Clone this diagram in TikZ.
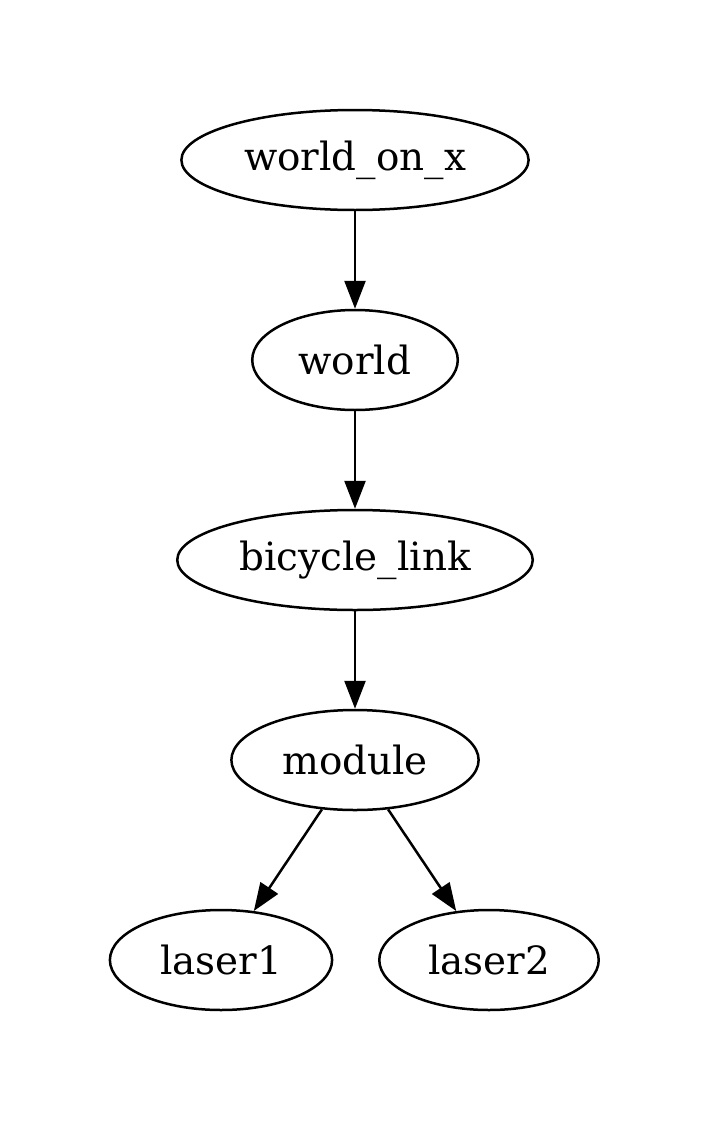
\documentclass[tikz,border=0pt]{standalone}
\usepackage{fontspec}
\setmainfont{DejaVu Serif}
\usetikzlibrary{arrows.meta,shapes.geometric,positioning}

\begin{document}
\begin{tikzpicture}[x=0.36pt,y=-0.36pt,
  joint/.style={draw,ellipse,line width=0.9pt,inner sep=0pt,minimum height=36pt,
    font=\fontsize{14}{16}\selectfont},
  tf/.style={line width=0.9pt,-{Triangle[length=10pt,width=7.5pt]}}]
\useasboundingbox (0,0) rectangle (712,1123);
\node[joint,minimum width=125pt] (wox) at (355,160) {world\_on\_x};
\node[joint,minimum width=74pt] (world) at (355,360) {world};
\node[joint,minimum width=128pt] (bike) at (355,560) {bicycle\_link};
\node[joint,minimum width=89pt] (module) at (355,760) {module};
\node[joint,minimum width=80pt] (laser1) at (221,960) {laser1};
\node[joint,minimum width=79pt] (laser2) at (489,960) {laser2};
\foreach \a/\b in {wox/world,world/bike,bike/module,module/laser1,module/laser2}
  \draw[tf] (\a) -- (\b);
\end{tikzpicture}
\end{document}
